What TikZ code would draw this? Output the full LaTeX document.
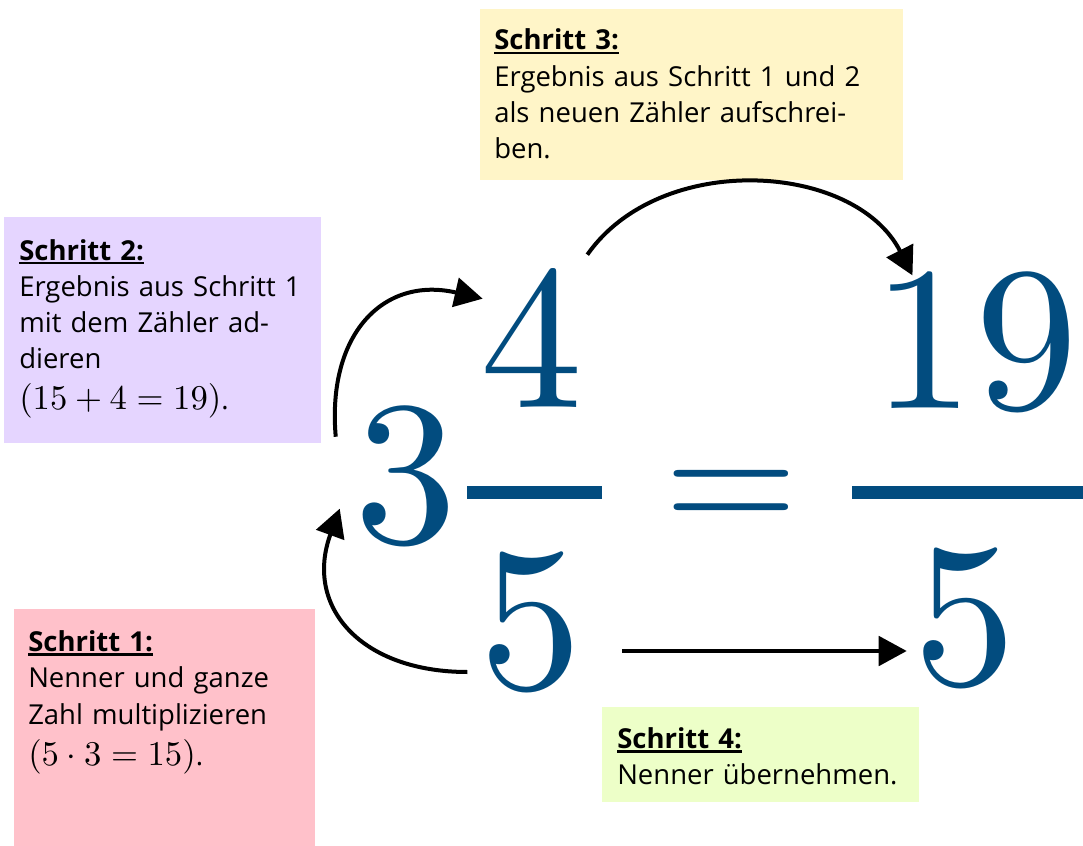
\documentclass[tikz,border=0pt]{standalone}
\usepackage[no-math]{fontspec}
\newfontfamily\schrift{Open Sans}
\usetikzlibrary{arrows.meta,positioning}
\definecolor{zahlblau}{RGB}{2,76,127}
\definecolor{gelb}{RGB}{255,245,200}
\definecolor{lila}{RGB}{229,213,255}
\definecolor{rosa}{RGB}{255,193,202}
\definecolor{gruen}{RGB}{237,255,200}
% underlined bold heading
\newcommand{\titel}[1]{\setbox0\hbox{\bfseries #1}\rlap{\rule[-3.2pt]{\wd0}{1.9pt}}\box0}
\newcommand{\formel}[1]{{\fontsize{10}{12}\selectfont\scalebox{2.6}{$#1$}}}
\newcommand{\gross}[1]{\scalebox{15.4}{$#1$}}
\tikzset{
    %Define standard arrow tip
    >={Triangle[length=21pt,width=22pt]},
    %Define style for step boxes
    schritt/.style={
           rectangle,
           anchor=base west,
           inner ysep=0pt,
           align=left,
           font=\schrift\fontsize{20.6}{27.2}\selectfont},
    %Define style for the big numbers
    zahl/.style={
           inner sep=0pt,
           anchor=base,
           text=zahlblau},
    bruch/.style={
           rectangle,
           fill=zahlblau,
           inner sep=0pt,
           minimum height=9.75pt},
    % Define arrow style
    pfeil/.style={
           ->,
           line width=3pt}
}
\begin{document}
\begin{tikzpicture}[x=0.75pt,y=-0.75pt]
    \useasboundingbox (0,0) rectangle (1083,846);
    % big numbers
    \node[zahl] (ganz) at (406,542) {\gross{3}};
    \node[zahl] (zaehler) at (532,407) {\gross{4}};
    \node[bruch, minimum width=101.5pt] (strich) at (534.5,492) {};
    \node[zahl] (nenner) at (531,688) {\gross{5}};
    \node[zahl] (gleich) at (731.5,533) {\scalebox{12.9}{$=$}};
    \node[zahl] (zaehlerneu) at (975,408) {\gross{19}};
    \node[bruch, minimum width=173.25pt] (strichneu) at (967.5,492) {};
    \node[zahl] (nennerneu) at (965,684) {\gross{5}};
    % steps
    \node[schritt, fill=rosa, inner xsep=10.5pt, text width=204.75pt,
          text height=31.8pt, text depth=150pt] (schritt1) at (14,651.7)
        {\titel{Schritt 1:}\\Nenner und ganze\\Zahl multiplizieren\\[3.5pt]\formel{(5\cdot 3=15)}.};
    \node[schritt, fill=lila, inner xsep=11.25pt, text width=215.25pt,
          text height=32pt, text depth=137.5pt] (schritt2) at (4,260)
        {\titel{Schritt 2:}\\Ergebnis aus Schritt 1\\mit dem Zähler ad-\\dieren\\[3pt]\formel{(15+4=19)}.};
    \node[schritt, fill=gelb, inner xsep=10.5pt, text width=296.25pt,
          text height=30.5pt, text depth=97.5pt] (schritt3) at (480,50)
        {\titel{Schritt 3:}\\Ergebnis aus Schritt 1 und 2\\als neuen Zähler aufschrei-\\ben.};
    \node[schritt, fill=gruen, inner xsep=11.25pt, text width=215.25pt,
          text height=30.75pt, text depth=40pt] (schritt4) at (602,748.3)
        {\titel{Schritt 4:}\\Nenner übernehmen.};
    % arrows
    \draw[pfeil] ([xshift=-9pt,yshift=12pt]nenner.base west)
        to[out=180,in=250,looseness=1.3] ([xshift=-11pt,yshift=25pt]ganz.base west);
    \draw[pfeil] ([xshift=-14pt,yshift=-20.5pt]ganz.north west)
        to[out=95,in=167,looseness=1.3] ([xshift=1.7pt,yshift=-18.2pt]zaehler.north west);
    \draw[pfeil] ([xshift=2.8pt,yshift=14.8pt]zaehler.north east)
        to[out=55,in=117] ([xshift=30.3pt]zaehlerneu.north west);
    \draw[pfeil] ([xshift=29.8pt,yshift=27.75pt]nenner.base east)
        -- ([xshift=-5pt,yshift=24.75pt]nennerneu.base west);
\end{tikzpicture}
\end{document}
